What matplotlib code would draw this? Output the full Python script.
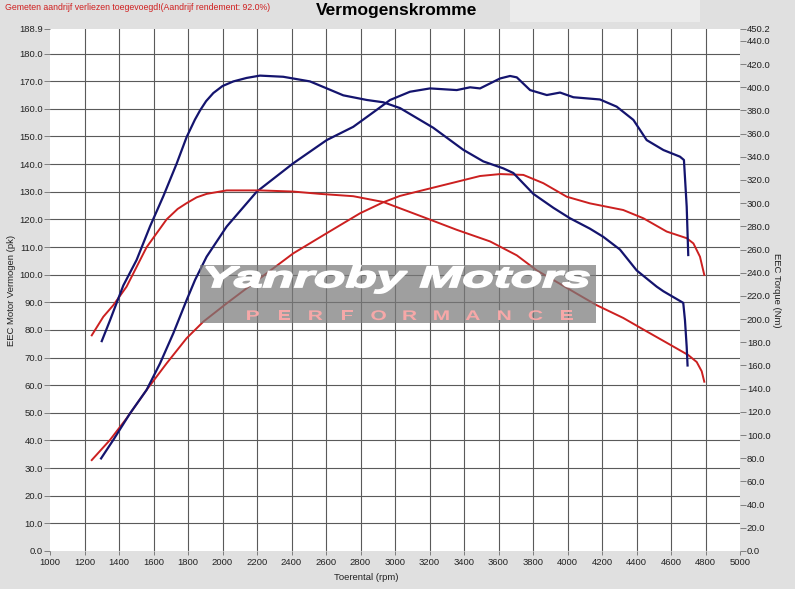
import matplotlib
matplotlib.use("Agg")
import matplotlib.pyplot as plt
import numpy as np
from matplotlib.patches import Rectangle, PathPatch
from matplotlib.textpath import TextPath
from matplotlib.font_manager import FontProperties
from matplotlib.transforms import Affine2D, IdentityTransform

plt.rcParams['font.family'] = ['Liberation Sans', 'DejaVu Sans']

# tuned run (blue) - power in pk
rpm_pk_tuned = [1296, 1367, 1464, 1560, 1638, 1715, 1792, 1841, 1908, 2024, 2198, 2410,
                2604, 2758, 2893, 2971, 3087, 3203, 3358, 3435, 3493, 3609, 3667, 3706,
                3783, 3880, 3957, 4034, 4188, 4285, 4382, 4459, 4556, 4652, 4675, 4691, 4700]
pk_tuned = [33.5, 40.2, 49.8, 58.3, 67.9, 78.8, 90.8, 98.1, 106.5, 117.4, 130.0, 140.3,
            148.7, 153.5, 159.6, 163.2, 166.2, 167.4, 166.8, 167.8, 167.4, 171.0, 171.9, 171.4,
            166.8, 165.0, 165.9, 164.2, 163.4, 160.8, 156.0, 148.7, 145.1, 142.7, 141.5, 124.6, 107.1]

# tuned run (blue) - torque in Nm
rpm_nm_tuned = [1300, 1348, 1425, 1502, 1580, 1657, 1734, 1792, 1840, 1870, 1905, 1947,
                2000, 2063, 2140, 2217, 2352, 2507, 2604, 2700, 2836, 2932, 3029, 3222,
                3396, 3512, 3628, 3686, 3802, 3918, 4014, 4130, 4207, 4304, 4401, 4517,
                4556, 4671, 4681, 4691, 4696]
nm_tuned = [181, 199, 229, 251, 280, 306, 334, 357, 372, 380, 388, 395,
            401, 405, 408, 410, 409, 405, 399, 393, 389, 387, 382, 365,
            346, 336, 330, 326, 308, 296, 287, 278, 271, 260, 242, 228,
            224, 214, 199, 176, 160]

# stock run (red) - power in pk
rpm_pk_stock = [1242, 1348, 1444, 1560, 1676, 1792, 1889, 2024, 2179, 2410, 2604, 2797,
                2932, 3029, 3164, 3358, 3493, 3609, 3744, 3860, 3996, 4130, 4323, 4440,
                4575, 4691, 4730, 4768, 4793]
pk_stock = [32.9, 40.2, 48.0, 58.3, 67.9, 77.0, 83.0, 89.6, 96.9, 107.7, 115.0, 122.2,
            126.2, 128.5, 130.6, 133.6, 135.7, 136.4, 136.1, 133.1, 128.2, 125.8, 123.4, 120.4,
            115.6, 113.2, 111.3, 106.5, 99.9]

# stock run (red) - torque in Nm
rpm_nm_stock = [1242, 1309, 1367, 1444, 1560, 1676, 1740, 1792, 1850, 1908, 2024, 2217,
                2410, 2565, 2758, 2932, 3164, 3358, 3551, 3706, 3822, 3938, 4053, 4169,
                4323, 4440, 4594, 4700, 4749, 4778, 4793]
nm_stock = [186, 202, 212, 228, 262, 286, 295, 300, 305, 308, 311, 311,
            310, 308, 306, 301, 288, 277, 267, 255, 242, 232, 222, 212,
            201, 191, 178, 169, 163, 155, 146]

x_ticks = list(range(1000, 5001, 200))
pk_ticks = list(range(0, 181, 10)) + [188.9]
nm_ticks = list(range(0, 441, 20)) + [450.2]

W, H = 795, 589
fig = plt.figure(figsize=(W / 100, H / 100), dpi=100, facecolor='#e0e0e0')

# lighter box top right
fig.patches.append(Rectangle((510 / W, 1 - 22 / H), 190 / W, 22 / H,
                             transform=fig.transFigure, facecolor='#ebebeb',
                             edgecolor='none', zorder=0))

ax = fig.add_axes([50 / W, 38 / H, 690 / W, 522 / H])
ax.set_facecolor('white')
ax2 = ax.twinx()

ax.set_xlim(1000, 5000)
ax.set_ylim(0, 188.9)
ax2.set_ylim(0, 450.2)

ax.set_xticks(x_ticks)
ax.set_xticklabels([str(v) for v in x_ticks])
ax.set_yticks(pk_ticks)
ax.set_yticklabels([f"{v:.1f}" for v in pk_ticks])
ax2.set_yticks(nm_ticks)
ax2.set_yticklabels([f"{v:.1f}" for v in nm_ticks])

ax.grid(True, color='#5a5a5a', linewidth=0.8)
ax.set_axisbelow(True)
ax.get_ygridlines()[-1].set_visible(False)
ax.get_ygridlines()[0].set_visible(False)
ax.get_xgridlines()[0].set_visible(False)
ax.get_xgridlines()[-1].set_visible(False)

for a in (ax, ax2):
    for s in a.spines.values():
        s.set_visible(False)
    a.tick_params(direction='out', length=4, width=0.7, color='#808080',
                  labelsize=6.8, labelcolor='#222222', pad=1)
ax.tick_params(axis='x', length=3, pad=2)

red = '#cc2020'
blue = '#14146e'
ax.plot(rpm_pk_stock, pk_stock, color=red, lw=1.4)
ax.plot(rpm_pk_tuned, pk_tuned, color=blue, lw=1.6)
ax2.plot(rpm_nm_stock, nm_stock, color=red, lw=1.4)
ax2.plot(rpm_nm_tuned, nm_tuned, color=blue, lw=1.6)

# texts
fig.text(5 / W, 1 - 7 / H, "Gemeten aandrijf verliezen toegevoegd!(Aandrijf rendement: 92.0%)",
         color='#d02020', fontsize=6.3, ha='left', va='center')
fig.text(397 / W, 1 - 11 / H, "Vermogenskromme", fontsize=12.5, fontweight='bold',
         ha='center', va='center', color='black')
fig.text(12 / W, 1 - 290 / H, "EEC Motor Vermogen (pk)", rotation=90, fontsize=6.8,
         ha='center', va='center', color='#222222')
fig.text(776 / W, 1 - 290 / H, "EEC Torque (Nm)", rotation=270, fontsize=6.8,
         ha='center', va='center', color='#222222')
fig.text(366 / W, 1 - 578 / H, "Toerental (rpm)", fontsize=6.8,
         ha='center', va='center', color='#222222')

# watermark: grey box with stretched logo text (pixel coords, origin bottom-left)
fig.patches.append(Rectangle((200 / W, 1 - 323 / H), 396 / W, 58 / H,
                             transform=fig.transFigure, facecolor='#7a7a7a',
                             edgecolor='none', alpha=0.72, zorder=5))
fp = FontProperties(family='Liberation Sans', weight='bold', style='italic')
tp = TextPath((0, 0), "Yanroby Motors", size=1, prop=fp)
ext = tp.get_extents()
sx = 383 / ext.width
sy = 21 / 0.716
tr = Affine2D().scale(sx, sy).translate(206 - ext.x0 * sx, H - 287)
fig.patches.append(PathPatch(tr.transform_path(tp), transform=IdentityTransform(),
                             facecolor='white', edgecolor='white', linewidth=1.3, zorder=6))

fp2 = FontProperties(family='Liberation Sans', weight='bold')
for i, ch in enumerate("PERFORMANCE"):
    lp = TextPath((0, 0), ch, size=1, prop=fp2)
    le = lp.get_extents()
    cx = 253 + i * 31.4
    tr = Affine2D().translate(-(le.x0 + le.width / 2), 0).scale(21, 10 / 0.716).translate(cx, H - 320)
    fig.patches.append(PathPatch(tr.transform_path(lp), transform=IdentityTransform(),
                                 facecolor='#f6a8a8', edgecolor='none', zorder=6))

fig.savefig("out.png", dpi=100, facecolor=fig.get_facecolor())
